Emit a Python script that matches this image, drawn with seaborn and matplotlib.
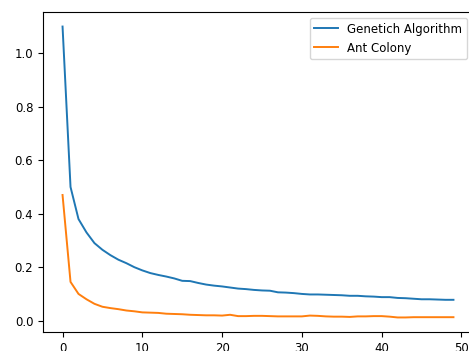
import matplotlib
matplotlib.use("Agg")
import matplotlib.pyplot as plt
import seaborn as sns
import pandas as pd

iterations = list(range(50))
genetic = [1.10, 0.50, 0.38, 0.33, 0.29, 0.265, 0.245, 0.228, 0.215, 0.200,
           0.188, 0.178, 0.171, 0.165, 0.158, 0.149, 0.148, 0.141, 0.135, 0.131,
           0.128, 0.124, 0.120, 0.118, 0.115, 0.113, 0.112, 0.106, 0.105, 0.103,
           0.100, 0.098, 0.098, 0.097, 0.096, 0.095, 0.093, 0.093, 0.091, 0.090,
           0.088, 0.088, 0.085, 0.084, 0.082, 0.080, 0.080, 0.079, 0.078, 0.078]
ant = [0.47, 0.145, 0.100, 0.080, 0.063, 0.052, 0.047, 0.043, 0.038, 0.035,
       0.031, 0.030, 0.029, 0.026, 0.025, 0.024, 0.022, 0.021, 0.020, 0.020,
       0.019, 0.022, 0.017, 0.017, 0.018, 0.018, 0.017, 0.016, 0.016, 0.016,
       0.016, 0.019, 0.018, 0.016, 0.015, 0.015, 0.014, 0.016, 0.016, 0.017,
       0.017, 0.015, 0.012, 0.012, 0.013, 0.013, 0.013, 0.013, 0.013, 0.013]
series_names = ["Genetich Algorithm", "Ant Colony"]

df = pd.DataFrame({
    "iteration": iterations * 2,
    "value": genetic + ant,
    "algorithm": [series_names[0]] * len(genetic) + [series_names[1]] * len(ant),
})

plt.rcParams["font.size"] = 8.5
fig = plt.figure(figsize=(4.69, 3.51), dpi=100)
ax = fig.add_axes([43 / 469, 19 / 351, 430 / 469, 320 / 351])
sns.lineplot(data=df, x="iteration", y="value", hue="algorithm",
             palette=["#1f77b4", "#ff7f0e"], linewidth=1.4, ax=ax)
ax.set_xlabel("")
ax.set_ylabel("")
ax.set_xticks([0, 10, 20, 30, 40, 50])
ax.set_yticks([0.0, 0.2, 0.4, 0.6, 0.8, 1.0])
ax.tick_params(labelsize=8.5)
ax.legend(title=None, loc="upper right", fontsize=8.5)
fig.savefig("out.png", dpi=100)
